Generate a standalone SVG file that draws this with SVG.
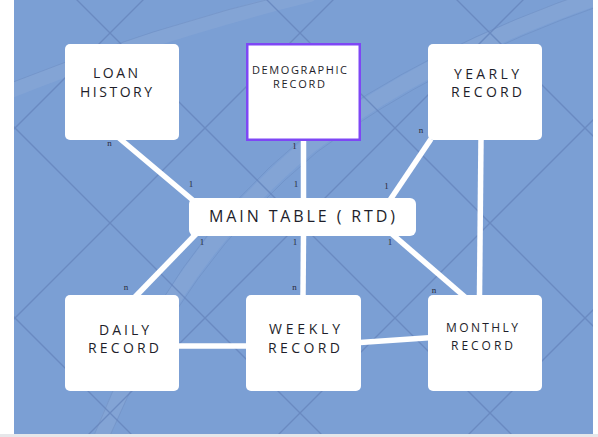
<svg xmlns="http://www.w3.org/2000/svg" width="598" height="437" viewBox="0 0 598 437">
  <defs>
    <style>
      .bg { fill: #7b9fd4; }
      .grid { stroke: #6685bd; stroke-width: 1.3; fill: none; opacity: 0.8; }
      .band { fill: none; stroke: #a3b9db; stroke-linecap: round; opacity: 0.2; }
      .bandedge { fill: none; stroke: #5f7fb4; stroke-width: 1; opacity: 0.3; }
      .node { fill: #ffffff; }
      .demo { fill: #ffffff; stroke: #7e47f5; stroke-width: 2.5; }
      .conn { stroke: #ffffff; stroke-width: 5.5; fill: none; }
      .t { font-family: "Open Sans", "Liberation Sans", sans-serif; fill: #1e1e2a; }
      .t14 { font-size: 14px; }
      .t11 { font-size: 11px; }
      .t16 { font-size: 16px; }
      .t12 { font-size: 12px; }
      .card { font-family: "Liberation Serif", "DejaVu Serif", serif; font-size: 9px; fill: #2a2a3a; text-anchor: middle; }
    </style>
    <clipPath id="area"><rect x="14" y="0" width="579" height="434"/></clipPath>
  </defs>

  <rect x="0" y="0" width="598" height="437" fill="#ffffff"/>
  <rect x="0" y="434" width="598" height="3" fill="#e6e7ea"/>

  <g id="background" clip-path="url(#area)">
    <rect class="bg" x="14" y="0" width="579" height="434"/>
    <path class="band" stroke-width="14" d="M8,92 Q150,35 310,-5"/>
    <path class="bandedge" d="M8,84 Q150,27 305,-10"/>
    <path class="band" stroke-width="16" d="M600,-4 Q430,55 310,145 Q175,255 100,440"/>
    <path class="bandedge" d="M600,-12 Q425,47 303,138 Q168,248 92,440"/>
    <path class="bandedge" d="M602,5 Q437,63 317,152 Q183,262 108,440"/>
    <g class="grid">
      <line x1="-200" y1="343" x2="343" y2="-200"/>
      <line x1="-200" y1="533" x2="533" y2="-200"/>
      <line x1="-200" y1="723" x2="723" y2="-200"/>
      <line x1="-200" y1="913" x2="913" y2="-200"/>
      <line x1="-200" y1="1103" x2="1103" y2="-200"/>
      <line x1="-200" y1="1293" x2="1293" y2="-200"/>
      <line x1="-200" y1="153" x2="153" y2="-200"/>
      <line x1="-200" y1="-277" x2="800" y2="723"/>
      <line x1="-200" y1="-87" x2="800" y2="913"/>
      <line x1="-200" y1="103" x2="800" y2="1103"/>
      <line x1="-200" y1="293" x2="800" y2="1293"/>
      <line x1="-200" y1="-467" x2="800" y2="533"/>
      <line x1="-200" y1="-657" x2="800" y2="343"/>
      <line x1="-200" y1="-847" x2="800" y2="153"/>
    </g>
  </g>

  <g id="connectors">
    <line class="conn" x1="119" y1="138" x2="195" y2="202"/>
    <line class="conn" x1="303.5" y1="141" x2="303.5" y2="199"/>
    <line class="conn" x1="431" y1="139" x2="390" y2="200"/>
    <line class="conn" x1="481" y1="139" x2="479.5" y2="296"/>
    <line class="conn" x1="196" y1="234" x2="135" y2="297"/>
    <line class="conn" x1="303.5" y1="235" x2="303" y2="296"/>
    <line class="conn" x1="392" y1="234" x2="465" y2="297"/>
    <line class="conn" x1="178" y1="346" x2="247" y2="346"/>
    <line class="conn" x1="360" y1="342.5" x2="429" y2="337.7"/>
  </g>

  <g id="cardinalities">
    <text class="card" x="109.5" y="146">n</text>
    <text class="card" x="191" y="187">1</text>
    <text class="card" x="294.5" y="149">1</text>
    <text class="card" x="296" y="187">1</text>
    <text class="card" x="421" y="133">n</text>
    <text class="card" x="386.5" y="189">1</text>
    <text class="card" x="202" y="245">1</text>
    <text class="card" x="295" y="245">1</text>
    <text class="card" x="390" y="245">1</text>
    <text class="card" x="126" y="290">n</text>
    <text class="card" x="294.5" y="290">n</text>
    <text class="card" x="434" y="293">n</text>
  </g>

  <g id="loan-history">
    <rect class="node" x="65" y="44" width="114" height="96" rx="5"/>
    <text class="t t14" x="93" y="78" textLength="45" lengthAdjust="spacing">LOAN</text>
    <text class="t t14" x="80" y="97" textLength="72" lengthAdjust="spacing">HISTORY</text>
  </g>

  <g id="demographic-record">
    <rect class="demo" x="247.25" y="44.25" width="112.5" height="95.5"/>
    <text class="t t11" x="252" y="74" textLength="95" lengthAdjust="spacing">DEMOGRAPHIC</text>
    <text class="t t11" x="273" y="88" textLength="52" lengthAdjust="spacing">RECORD</text>
  </g>

  <g id="yearly-record">
    <rect class="node" x="428" y="44" width="114" height="96" rx="5"/>
    <text class="t t14" x="454" y="79" textLength="65" lengthAdjust="spacing">YEARLY</text>
    <text class="t t14" x="451" y="97" textLength="71" lengthAdjust="spacing">RECORD</text>
  </g>

  <g id="main-table">
    <rect class="node" x="189" y="198" width="227" height="38" rx="6"/>
    <text class="t t16" x="209" y="222" textLength="186" lengthAdjust="spacing">MAIN TABLE ( RTD)</text>
  </g>

  <g id="daily-record">
    <rect class="node" x="65" y="295" width="114" height="96" rx="5"/>
    <text class="t t14" x="99" y="335" textLength="50" lengthAdjust="spacing">DAILY</text>
    <text class="t t14" x="88" y="353" textLength="71" lengthAdjust="spacing">RECORD</text>
  </g>

  <g id="weekly-record">
    <rect class="node" x="246" y="295" width="115" height="96" rx="5"/>
    <text class="t t14" x="269" y="334" textLength="71" lengthAdjust="spacing">WEEKLY</text>
    <text class="t t14" x="268" y="353" textLength="72" lengthAdjust="spacing">RECORD</text>
  </g>

  <g id="monthly-record">
    <rect class="node" x="428" y="295" width="114" height="96" rx="5"/>
    <text class="t t12" x="446" y="332" textLength="72" lengthAdjust="spacing">MONTHLY</text>
    <text class="t t12" x="451" y="350" textLength="62" lengthAdjust="spacing">RECORD</text>
  </g>
</svg>
